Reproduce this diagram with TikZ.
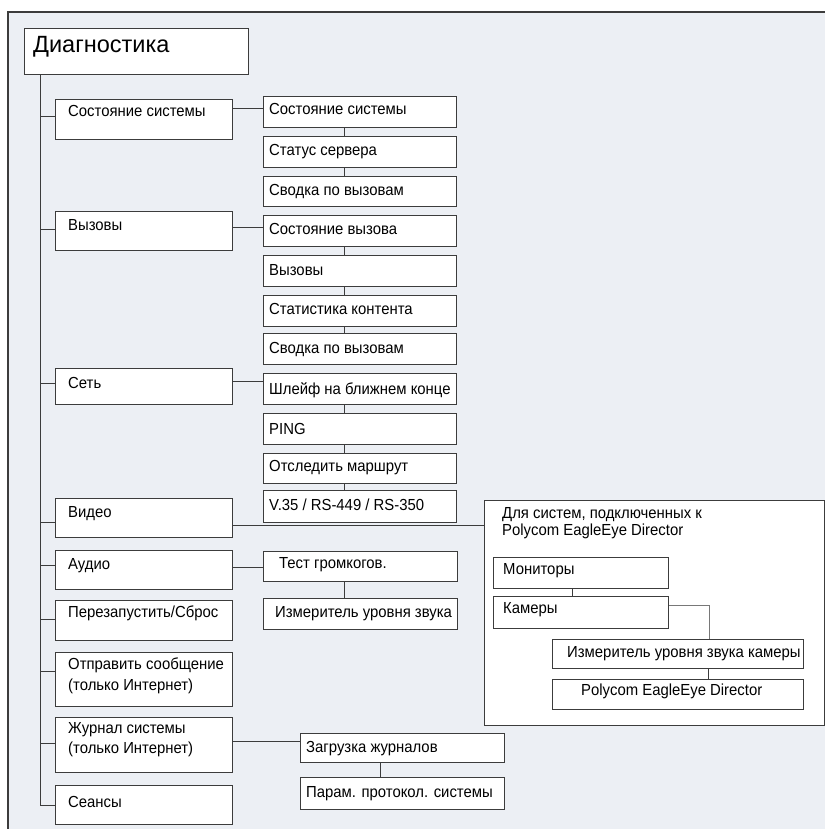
\documentclass[tikz,border=0pt]{standalone}
\usepackage{fontspec}
\setmainfont{Liberation Sans}
\newfontfamily\narfont[FakeStretch=0.93]{Liberation Sans}
\usetikzlibrary{calc}
\definecolor{bg}{RGB}{236,239,244}
\definecolor{ln}{RGB}{60,60,60}
\definecolor{lnl}{RGB}{120,120,120}
\tikzset{
  boxst/.style={draw=ln, line width=1.1pt, fill=white, inner sep=0pt, anchor=north west},
  txt/.style={inner sep=0pt, anchor=base west, font=\narfont\fontsize{16}{19}\selectfont},
  conn/.style={draw=ln, line width=1pt},
}
\newcommand\mybox[8]{%
  \node[boxst, minimum width=#4pt, minimum height=#5pt] (#1) at (#2,#3) {};
  \node[txt] (#1t) at ([xshift=#6pt,yshift=-#7pt]#1.north west) {#8};}
\begin{document}
\begin{tikzpicture}[x=1pt,y=-1pt]
\useasboundingbox (0,0) rectangle (825,829);
\fill[bg] (8,12) rectangle (825,829);
\draw[ln, line width=1.6pt] (8,829) -- (8,12) -- (825,12);

% root
\mybox{diag}{24}{28}{224}{46}{9}{25}{\rmfamily\fontsize{23.5}{27}\selectfont Диагностика}

% level 1
\mybox{s1}{55}{99}{177}{40}{13}{18}{Состояние системы}
\mybox{s2}{55}{211}{177}{39}{13}{19}{Вызовы}
\mybox{s3}{55}{368}{177}{36}{13}{20}{Сеть}
\mybox{s4}{55}{498}{177}{39}{13}{19}{Видео}
\mybox{s5}{55}{550}{177}{39}{13}{19}{Аудио}
\mybox{s6}{55}{600}{177}{40}{13}{17}{Перезапустить/Сброс}
\mybox{s7}{55}{652}{177}{54}{13}{17}{Отправить сообщение}
\node[txt] (s7u) at ([xshift=13pt,yshift=-38pt]s7.north west) {(только Интернет)};
\mybox{s8}{55}{717}{177}{55}{13}{16}{Журнал системы}
\node[txt] (s8u) at ([xshift=13pt,yshift=-36pt]s8.north west) {(только Интернет)};
\mybox{s9}{55}{785}{177}{39}{13}{22}{Сеансы}

% level 2
\mybox{a1}{263}{96}{193}{31}{6}{19}{Состояние системы}
\mybox{a2}{263}{136}{193}{31}{6}{20}{Статус сервера}
\mybox{a3}{263}{176}{193}{30}{6}{19}{Сводка по вызовам}
\mybox{b1}{263}{215}{193}{31}{6}{19}{Состояние вызова}
\mybox{b2}{263}{255}{193}{31}{6}{20}{Вызовы}
\mybox{b3}{263}{295}{193}{31}{6}{19}{Статистика контента}
\mybox{b4}{263}{333}{193}{31}{6}{20}{Сводка по вызовам}
\mybox{c1}{263}{373}{193}{31}{6}{21}{Шлейф на ближнем конце}
\mybox{c2}{263}{413}{193}{31}{6}{21}{PING}
\mybox{c3}{263}{453}{193}{30}{6}{18}{Отследить маршрут}
\mybox{c4}{263}{490}{193}{32}{6}{20}{V.35 / RS-449 / RS-350}
\mybox{d1}{263}{551}{194}{30}{16}{17}{Тест громкогов.}
\mybox{d2}{263}{598}{194}{31}{12}{19}{Измеритель уровня звука}
\mybox{g1}{300}{733}{204}{29}{6}{19}{Загрузка журналов}
\mybox{g2}{300}{777}{204}{32}{6}{20}{Парам. протокол. системы}

% video group
\mybox{B}{484}{500}{340}{225}{18}{18}{Для систем, подключенных к}
\node[txt] (Bu) at ([xshift=18pt,yshift=-35pt]B.north west) {Polycom EagleEye Director};
\mybox{m}{493}{557}{175}{31}{10}{17}{Мониторы}
\mybox{k}{493}{596}{175}{32}{10}{17}{Камеры}
\mybox{ik}{552}{639}{251}{29}{15}{18}{Измеритель уровня звука камеры}
\mybox{ped}{552}{679}{251}{30}{29}{16}{Polycom EagleEye Director}

% trunk and stubs
\coordinate (tr) at ([xshift=16pt]diag.south west);
\draw[conn] (tr) -- (tr |- s9.west) -- (s9.west);
\foreach \n/\o in {s1/3,s2/2,s3/3,s4/-4,s5/5,s6/1,s7/8,s8/2}
  \draw[conn] ([yshift=\o pt]\n.west) -- ++(-15,0);

% level 1 to level 2
\draw[conn] ([yshift=11pt]s1.east) -- ([yshift=11pt]s1.east -| a1.west);
\draw[conn] ([yshift=3.5pt]s2.east) -- ([yshift=3.5pt]s2.east -| b1.west);
\draw[conn] ([yshift=5pt]s3.east) -- ([yshift=5pt]s3.east -| c1.west);
\draw[conn] ([yshift=-7.5pt]s4.east) -- ([yshift=-7.5pt]s4.east -| B.west);
\draw[conn] ([yshift=2.5pt]s5.east) -- ([yshift=2.5pt]s5.east -| d1.west);
\draw[conn] ([yshift=3.5pt]s8.east) -- ([yshift=3.5pt]s8.east -| g1.west);

% vertical chains
\foreach \p/\q in {a1/a2,a2/a3,b1/b2,b2/b3,b3/b4,c1/c2,c2/c3,c3/c4}
  \draw[conn] ([xshift=-15.5pt]\p.south) -- ([xshift=-15.5pt]\q.north);
\draw[conn] ([xshift=-16pt]d1.south) -- ([xshift=-16pt]d2.north);
\draw[conn] ([xshift=-22pt]g1.south) -- ([xshift=-22pt]g2.north);
\draw[conn] ([xshift=-8.5pt]m.south) -- ([xshift=-8.5pt]k.north);
\draw[conn] ([xshift=30.5pt]ik.south) -- ([xshift=30.5pt]ped.north);
\draw[conn, draw=lnl] ([yshift=7pt]k.east) -| ([xshift=31pt]ik.north);
\end{tikzpicture}
\end{document}
